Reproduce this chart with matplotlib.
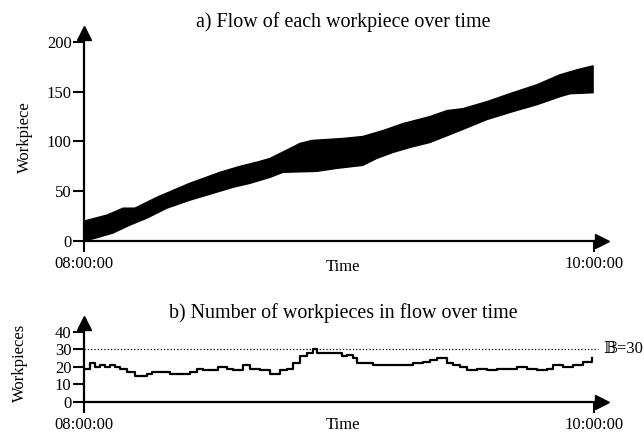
import numpy as np
import matplotlib
matplotlib.use("Agg")
import matplotlib.pyplot as plt

plt.rcParams['font.family'] = ['Liberation Serif', 'DejaVu Serif', 'DejaVu Sans']

# minutes after 08:00:00
upper_t = [0, 5.4, 9.2, 12, 17.2, 24.9, 32, 36.7, 41.4, 43.8, 48.5, 50.8, 53.6, 60.9,
           65.6, 70.4, 75.1, 81.4, 85.4, 89.2, 94.8, 100.9, 106.6, 112, 116, 119.8]
upper_v = [20, 26, 33, 33, 44, 58, 69, 75, 80, 83, 93, 98, 101, 103,
           105, 111, 118, 125, 131, 133, 140, 149, 157, 167, 172, 176]
lower_t = [0, 2.8, 6.8, 10.8, 14.8, 19.5, 24.9, 30.4, 35.1, 39.1, 43.8, 46.8, 54.8, 59.5,
           65.6, 68.9, 72.7, 76.7, 81.4, 83.8, 88.5, 94.8, 100.9, 106.6, 112, 114.4, 119.8]
lower_v = [0, 3, 8, 16, 23, 33, 41, 48, 54, 58, 64, 69, 70, 73,
           76, 83, 89, 94, 99, 103, 111, 122, 130, 137, 145, 148, 149]

wip_t = [0, 1.4, 2.6, 3.8, 4.9, 6.1, 7.3, 8.5, 10.1, 12, 13.2, 14.8, 16, 17.9, 20.2,
         22.6, 24.9, 26.6, 28, 29.6, 31.5, 33.6, 35.1, 37.4, 39.1, 41.4, 43.8, 46.1,
         47.8, 49.2, 50.8, 52.5, 53.9, 54.8, 59.5, 60.7, 61.9, 63.3, 64.2, 65.6, 68,
         70.4, 72.7, 75.1, 77.4, 79.8, 81.4, 83.1, 85.4, 86.8, 88.5, 90.1, 92.5, 94.8,
         97.2, 99.5, 101.9, 104.2, 106.6, 108.9, 110.4, 112.7, 115.1, 117.4, 119.5]
wip_v = [19, 22, 20, 21, 20, 21, 20, 19, 17, 15, 15, 16, 17, 17, 16,
         16, 17, 19, 18, 18, 20, 19, 18, 21, 19, 18, 16, 18,
         19, 22, 26, 28, 30, 28, 28, 26, 27, 25, 22, 22, 21,
         21, 21, 21, 22, 23, 24, 25, 22, 21, 20, 18, 19, 18,
         19, 19, 20, 19, 18, 19, 21, 20, 21, 23, 25]
capacity = 30

tick_minutes = [0, 120]
tick_labels = ['08:00:00', '10:00:00']

fs = 12
title_fs = 14.4

fig = plt.figure(figsize=(6.44, 4.32), dpi=100)
ax1 = fig.add_axes([84/644, 1-241/432, 518/644, 208/432])
ax2 = fig.add_axes([84/644, 1-402/432, 518/644, 79/432])


def style_axes(ax, ymax, yticks):
    ax.set_xlim(0, 121.9)
    ax.set_ylim(0, ymax)
    for s in ['top', 'right']:
        ax.spines[s].set_visible(False)
    for s in ['left', 'bottom']:
        ax.spines[s].set_linewidth(1.6)
    ax.set_xticks(tick_minutes)
    ax.set_xticklabels(tick_labels, fontsize=fs)
    ax.set_yticks(yticks)
    ax.tick_params(axis='y', direction='out', length=8, width=1.5, labelsize=fs, pad=1)
    ax.tick_params(axis='x', direction='out', length=8, width=1.5, labelsize=fs, pad=2.5)
    ax.plot(1, 0, '>', color='k', ms=10, transform=ax.transAxes, clip_on=False)
    ax.plot(0, 1, '^', color='k', ms=10, transform=ax.transAxes, clip_on=False)


# a) flow band
style_axes(ax1, 209, [0, 50, 100, 150, 200])
ax1.fill(np.concatenate([upper_t, lower_t[::-1]]),
         np.concatenate([upper_v, lower_v[::-1]]), color='k', lw=1.0, ec='k')
ax1.set_title('a) Flow of each workpiece over time', fontsize=title_fs, pad=4)
ax1.set_ylabel('Workpiece', fontsize=fs)
ax1.yaxis.set_label_coords(-0.099, 0.5)
ax1.text(0.5, -0.125, 'Time', transform=ax1.transAxes, ha='center', va='center', fontsize=fs)

# b) work in progress
style_axes(ax2, 45, [0, 10, 20, 30, 40])
ax2.step(wip_t, wip_v, where='post', color='k', lw=1.6)
ax2.plot([0, 120.9], [capacity, capacity], ':', color='k', lw=0.9, clip_on=False)
ax2.text(122.1, capacity, '\U0001D539=' + str(capacity), fontsize=fs, va='center', ha='left')
ax2.set_title('b) Number of workpieces in flow over time', fontsize=title_fs, pad=2)
ax2.set_ylabel('Workpieces', fontsize=fs)
ax2.yaxis.set_label_coords(-0.108, 0.5)
ax2.text(0.5, -0.29, 'Time', transform=ax2.transAxes, ha='center', va='center', fontsize=fs)

fig.savefig('out.png', dpi=100)
